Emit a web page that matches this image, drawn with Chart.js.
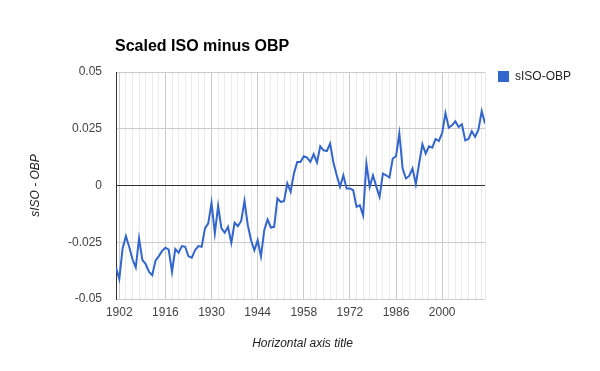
<!DOCTYPE html>
<html>
<head>
<meta charset="utf-8">
<script src="https://cdn.jsdelivr.net/npm/chart.js@4/dist/chart.umd.min.js"></script>
<style>
  html, body { margin: 0; padding: 0; background: #fff; }
  #c { display: block; }
</style>
</head>
<body>
<canvas id="c" width="600" height="371"></canvas>
<script>
// ---- data ----
const chartTitle = 'Scaled ISO minus OBP';
const seriesName = 'sISO-OBP';
const yAxisTitle = 'sISO - OBP';
const xAxisTitle = 'Horizontal axis title';

const years = [];
for (let y = 1901; y <= 2013; y++) years.push(y);

const values = [
  -0.0361, -0.0412, -0.0277, -0.0223, -0.0270, -0.0325, -0.0361, -0.0233, -0.0328, -0.0346, // 1901-1910
  -0.0380, -0.0395, -0.0331, -0.0311, -0.0288, -0.0274, -0.0282, -0.0380, -0.0280, -0.0296, // 1911-1920
  -0.0267, -0.0270, -0.0312, -0.0318, -0.0285, -0.0267, -0.0270, -0.0189, -0.0167, -0.0076, // 1921-1930
  -0.0211, -0.0090, -0.0189, -0.0208, -0.0182, -0.0252, -0.0164, -0.0179, -0.0156, -0.0068, // 1931-1940
  -0.0175, -0.0241, -0.0285, -0.0241, -0.0312, -0.0197, -0.0150, -0.0185, -0.0182, -0.0057, // 1941-1950
  -0.0072, -0.0069,  0.0009, -0.0028,  0.0053,  0.0104,  0.0104,  0.0129,  0.0123,  0.0104, // 1951-1960
   0.0138,  0.0101,  0.0173,  0.0155,  0.0152,  0.0185,  0.0100,  0.0045, -0.0006,  0.0045, // 1961-1970
  -0.0013, -0.0013, -0.0021, -0.0094, -0.0087, -0.0131,  0.0097, -0.0006,  0.0045, -0.0005, // 1971-1980
  -0.0050,  0.0053,  0.0045,  0.0035,  0.0119,  0.0129,  0.0229,  0.0075,  0.0031,  0.0042, // 1981-1990
   0.0075,  0.0006,  0.0097,  0.0182,  0.0141,  0.0173,  0.0167,  0.0205,  0.0196,  0.0231, // 1991-2000
   0.0319,  0.0255,  0.0265,  0.0283,  0.0258,  0.0270,  0.0199,  0.0205,  0.0239,  0.0214, // 2001-2010
   0.0246,  0.0328,  0.0273                                                                   // 2011-2013
];

const xLabelYears = [1902, 1916, 1930, 1944, 1958, 1972, 1986, 2000];
const xGridYears = [];
for (let y = 1902; y <= 2012; y += 2) xGridYears.push(y);
xGridYears.push(2013);

const yTickValues = [-0.05, -0.025, 0, 0.025, 0.05];
const yTickLabels = ['-0.05', '-0.025', '0', '0.025', '0.05'];

// ---- chart ----
const FONT = 'Arial, "Liberation Sans", sans-serif';
const LINE_COLOR = '#3366cc';

const textPlugin = {
  id: 'googleText',
  afterDraw(chart) {
    const ctx = chart.ctx;
    const a = chart.chartArea;
    ctx.save();
    // title
    ctx.fillStyle = '#000';
    ctx.font = 'bold 16px ' + FONT;
    ctx.textAlign = 'left';
    ctx.textBaseline = 'alphabetic';
    ctx.fillText(chartTitle, a.left - 1, 51);
    // legend
    ctx.fillStyle = LINE_COLOR;
    ctx.fillRect(a.right + 13, 71, 11, 11);
    ctx.fillStyle = '#222';
    ctx.font = '12px ' + FONT;
    ctx.textBaseline = 'middle';
    ctx.fillText(seriesName, a.right + 30, 77);
    // x axis title
    ctx.font = 'italic 12px ' + FONT;
    ctx.textAlign = 'center';
    ctx.fillStyle = '#222';
    ctx.fillText(xAxisTitle, (a.left + a.right) / 2 + 2, 344);
    // y axis title
    ctx.translate(36, (a.top + a.bottom) / 2);
    ctx.rotate(-Math.PI / 2);
    ctx.fillText(yAxisTitle, 0, 0);
    ctx.restore();
  }
};

new Chart(document.getElementById('c'), {
  type: 'line',
  data: {
    datasets: [{
      label: seriesName,
      data: years.map((yr, i) => ({ x: yr, y: values[i] })),
      borderColor: LINE_COLOR,
      backgroundColor: LINE_COLOR,
      borderWidth: 2,
      pointRadius: 0,
      pointHoverRadius: 0,
      tension: 0,
      fill: false
    }]
  },
  options: {
    responsive: false,
    animation: false,
    devicePixelRatio: 1,
    layout: { padding: { left: 0, right: 115, top: 72, bottom: 42 } },
    plugins: {
      legend: { display: false },
      title: { display: false },
      tooltip: { enabled: false }
    },
    scales: {
      x: {
        type: 'linear',
        min: 1901,
        max: 2013,
        afterBuildTicks(scale) {
          scale.ticks = xGridYears.map(v => ({ value: v }));
        },
        afterFit(scale) { scale.height = 30; },
        grid: {
          z: -1,
          drawTicks: false,
          color: ctx => (ctx.tick && xLabelYears.includes(ctx.tick.value)) ? '#cccccc' : '#ebebeb',
          lineWidth: 1
        },
        border: { display: false },
        ticks: {
          autoSkip: false,
          maxRotation: 0,
          minRotation: 0,
          padding: 6,
          color: '#444',
          font: { family: FONT, size: 12 },
          callback: v => xLabelYears.includes(v) ? String(v) : ''
        }
      },
      y: {
        type: 'linear',
        min: -0.05,
        max: 0.05,
        afterBuildTicks(scale) {
          scale.ticks = yTickValues.map(v => ({ value: v }));
        },
        afterFit(scale) { scale.width = 116; },
        grid: {
          z: 0,
          drawTicks: false,
          color: ctx => (ctx.tick && ctx.tick.value === 0) ? '#333333' : '#cccccc',
          lineWidth: 1
        },
        border: { display: true, color: '#333333', width: 1 },
        ticks: {
          padding: 14,
          color: '#444',
          font: { family: FONT, size: 12 },
          callback: v => {
            const i = yTickValues.indexOf(v);
            return i >= 0 ? yTickLabels[i] : '';
          }
        }
      }
    }
  },
  plugins: [textPlugin]
});
</script>
</body>
</html>
